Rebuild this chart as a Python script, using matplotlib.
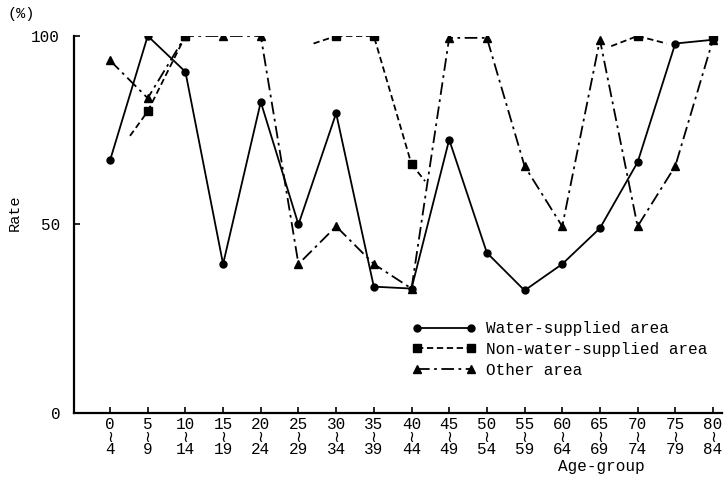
import numpy as np
import matplotlib
matplotlib.use("Agg")
import matplotlib.pyplot as plt

plt.rcParams['font.family'] = ['Liberation Mono', 'DejaVu Sans']

age_start = [0, 5, 10, 15, 20, 25, 30, 35, 40, 45, 50, 55, 60, 65, 70, 75, 80]
age_end = [4, 9, 14, 19, 24, 29, 34, 39, 44, 49, 54, 59, 64, 69, 74, 79, 84]

water = [67, 100, 90.5, 39.5, 82.5, 50, 79.5, 33.5, 33, 72.5, 42.5, 32.5, 39.5, 49, 66.5, 98, 99]
nan = np.nan
nonwater = [nan, 80, 100, nan, nan, nan, 100, 100, 66, nan, nan, nan, nan, nan, 100, nan, 100]
other = [93.5, 83.5, 100, 100, 100, 39.5, 49.5, 39.5, 33, 99.5, 99.5, 65.5, 49.5, 99, 49.5, 65.5, 99]

# short broken stubs of the dashed line (group index, value)
stubs = [((0.53, 1), (73.5, 80)), ((5.4, 6), (98, 100)), ((8, 8.36), (66, 61.5)),
         ((13.3, 14), (97.3, 100)), ((14, 14.77), (100, 98))]

x = np.arange(len(age_start))

fig = plt.figure(figsize=(7.26, 4.83), dpi=100)
ax = fig.add_axes([0.102, 0.145, 0.8925, 0.7805])

lw = 1.3
ax.plot(x, water, color='black', lw=lw, marker='o', ms=5, label='Water-supplied area')
ax.plot(x, nonwater, color='black', lw=lw, ls=(0, (3.5, 2)), marker='s', ms=6,
        label='Non-water-supplied area')
for sx, sy in stubs:
    ax.plot(sx, sy, color='black', lw=lw, ls=(0, (3.5, 2)))
ax.plot(x, other, color='black', lw=lw, ls=(0, (7, 2.5, 1.5, 2.5)), marker='^', ms=5.5,
        label='Other area')

ax.set_xlim(-0.955, 16.24)
ax.set_ylim(0, 100)
ax.spines['top'].set_visible(False)
ax.spines['right'].set_visible(False)
ax.spines['left'].set_linewidth(1.6)
ax.spines['bottom'].set_linewidth(1.6)

ax.set_yticks([0, 50, 100])
ax.set_yticklabels(['0', '50', '100'], fontsize=11.5)
ax.set_xticks(x)
ax.set_xticklabels([f"{a}\n\u2240\n{b}" for a, b in zip(age_start, age_end)],
                   fontsize=11.5, linespacing=0.8)
ax.tick_params(direction='in', length=4, width=1.2)
ax.tick_params(axis='y', pad=10)
ax.tick_params(axis='x', pad=3)

fig.text(0.011, 0.97, '(%)', fontsize=11, va='center')
fig.text(0.021, 0.56, 'Rate', fontsize=11, rotation=90, va='center', ha='center')
fig.text(0.768, 0.034, 'Age-group', fontsize=11.5, va='center')

ax.legend(loc='upper left', bbox_to_anchor=(0.512, 0.26), frameon=False, fontsize=11.5,
          numpoints=2, handlelength=4.0, handletextpad=0.6, labelspacing=0.35,
          borderaxespad=0)

fig.savefig('out.png', dpi=100)
